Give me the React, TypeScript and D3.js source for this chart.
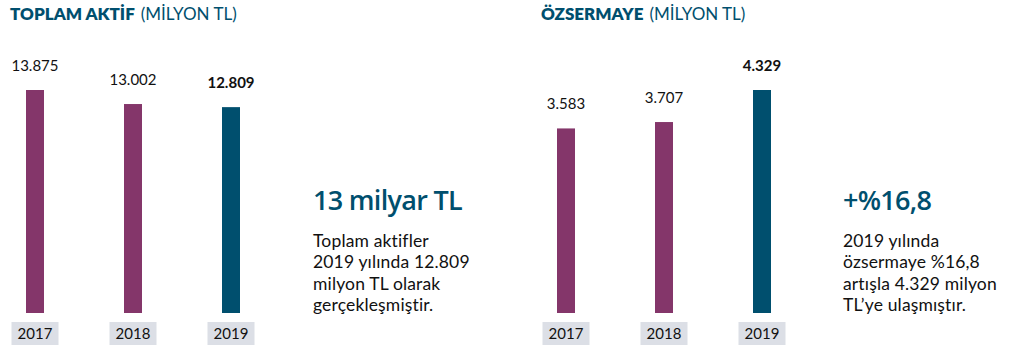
import React from 'react';
import * as d3 from 'd3';

const years = ['2017', '2018', '2019'];
const totalAssets = [13875, 13002, 12809];
const equity = [3583, 3707, 4329];
const totalAssetsLabels = ['13.875', '13.002', '12.809'];
const equityLabels = ['3.583', '3.707', '4.329'];

const assetsNote = ['Toplam aktifler', '2019 yılında 12.809', 'milyon TL olarak', 'gerçekleşmiştir.'];
const equityNote = ['2019 yılında', 'özsermaye %16,8', 'artışla 4.329 milyon', 'TL’ye ulaşmıştır.'];

const W = 1027;
const H = 348;
const FONT = 'Lato, "Noto Sans", sans-serif';
const HEAD_FONT = '"Open Sans", "Noto Sans", sans-serif';
const TEAL = '#004f6e';
const PURPLE = '#84366a';
const BOX = '#dcdfe6';
const BASE_Y = 313;
const BAR_W = 18;

type PanelProps = {
  x0: number;
  title: string;
  values: number[];
  labels: string[];
  headline: string;
  note: string[];
  noteX: number;
};

const Panel = ({ x0, title, values, labels, headline, note, noteX }: PanelProps) => {
  const x = d3.scaleBand().domain(years).range([x0 - 24, x0 - 24 + 294]);
  const y = d3
    .scaleLinear()
    .domain([0, d3.max(values) as number])
    .range([BASE_Y, 90]);
  const last = years.length - 1;

  return (
    <g>
      <text x={x0} y={20} fontSize={17} fill={TEAL} fontFamily={FONT}>
        <tspan fontWeight={800}>{title}</tspan>
        <tspan dx={6}>(MİLYON TL)</tspan>
      </text>
      {years.map((yr, i) => {
        const cx = (x(yr) as number) + x.bandwidth() / 2;
        return (
          <g key={yr}>
            <rect
              x={cx - BAR_W / 2}
              y={y(values[i])}
              width={BAR_W}
              height={BASE_Y - y(values[i])}
              fill={i === last ? TEAL : PURPLE}
            />
            <text
              x={cx}
              y={y(values[i]) - 19}
              textAnchor="middle"
              fontSize={15}
              fontFamily={FONT}
              fontWeight={i === last ? 700 : 400}
              fill="#111"
            >
              {labels[i]}
            </text>
            <rect x={cx - 23.5} y={322} width={47} height={23} fill={BOX} />
            <text x={cx} y={339} textAnchor="middle" fontSize={15} fontFamily={FONT} fill="#111">
              {yr}
            </text>
          </g>
        );
      })}
      <text
        x={noteX}
        y={210}
        fontSize={27}
        fontWeight={600}
        letterSpacing={-0.7}
        fill={TEAL}
        fontFamily={HEAD_FONT}
      >
        {headline}
      </text>
      {note.map((line, i) => (
        <text
          key={i}
          x={noteX}
          y={247 + i * 21.3}
          fontSize={17.5}
          letterSpacing={0.15}
          fill="#111"
          fontFamily={FONT}
        >
          {line}
        </text>
      ))}
    </g>
  );
};

export default function App() {
  return (
    <svg
      width={W}
      height={H}
      style={{ position: 'absolute', left: 0, top: 0, background: '#fff' }}
    >
      <Panel
        x0={10}
        title="TOPLAM AKTİF"
        values={totalAssets}
        labels={totalAssetsLabels}
        headline="13 milyar TL"
        note={assetsNote}
        noteX={313}
      />
      <Panel
        x0={541}
        title="ÖZSERMAYE"
        values={equity}
        labels={equityLabels}
        headline="+%16,8"
        note={equityNote}
        noteX={843}
      />
    </svg>
  );
}
